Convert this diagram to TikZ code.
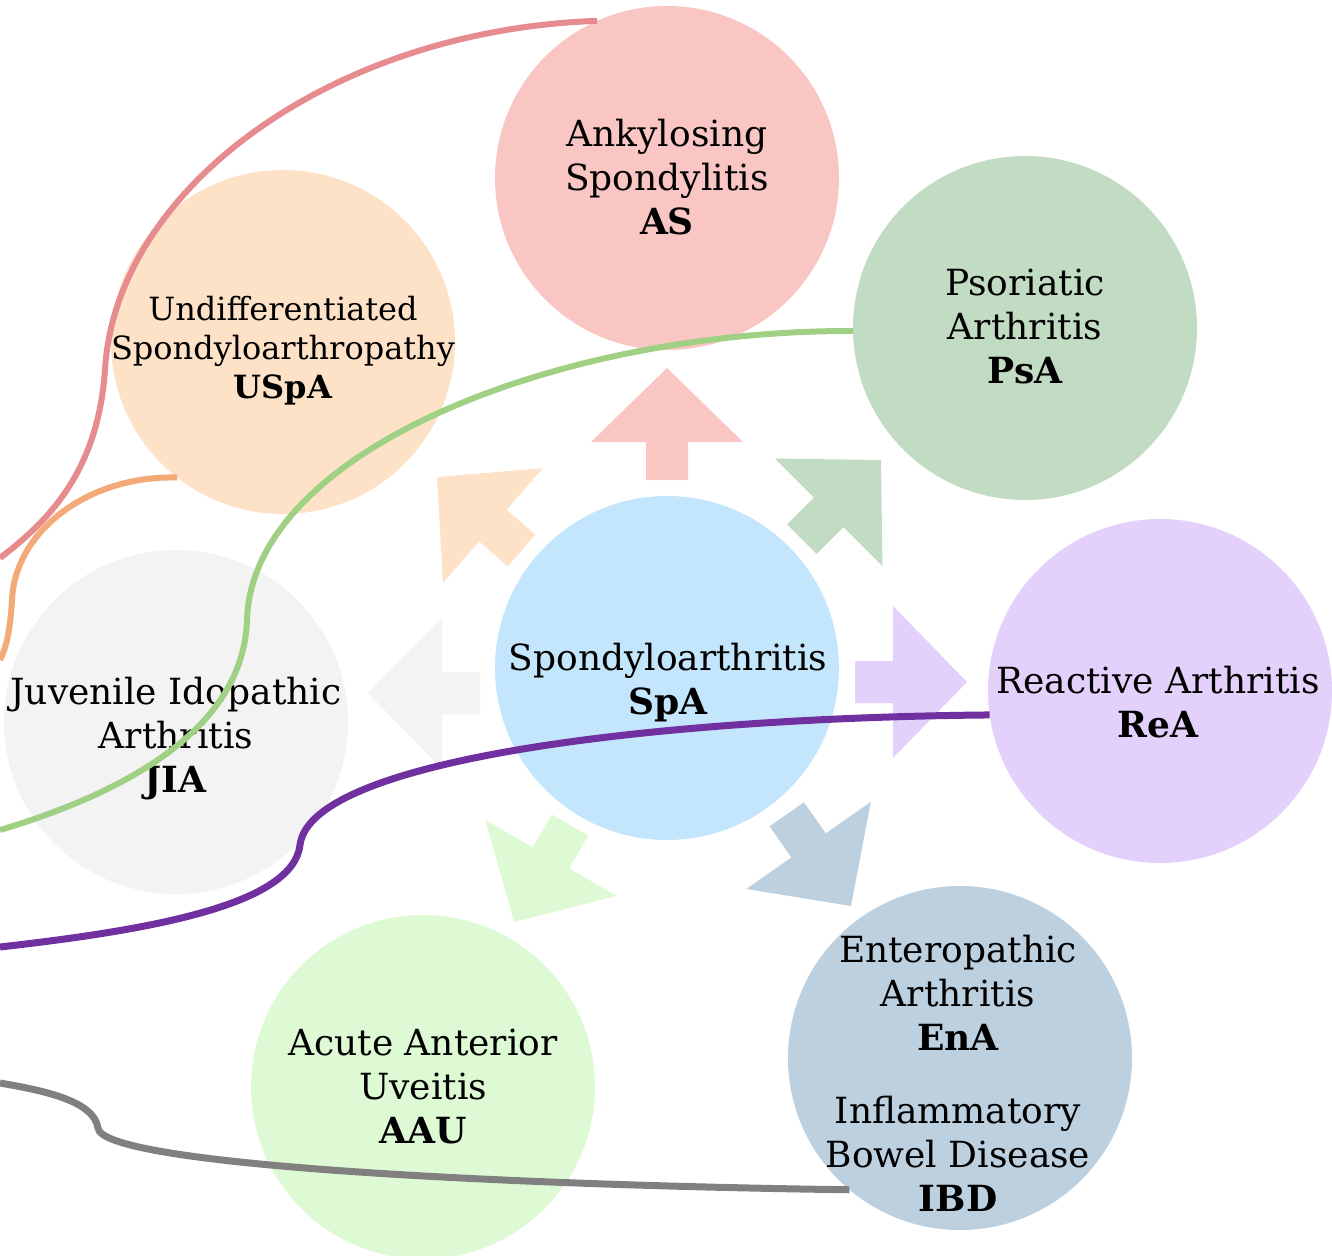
\documentclass[tikz,border=0pt]{standalone}
\usepackage{fontspec}
\setmainfont{DejaVu Serif}

\definecolor{asfill}{HTML}{F9C6C4}
\definecolor{uspafill}{HTML}{FDE2C7}
\definecolor{psafill}{HTML}{C2DBC3}
\definecolor{reafill}{HTML}{E3D1FB}
\definecolor{enafill}{HTML}{BDD0E0}
\definecolor{aaufill}{HTML}{DEFAD4}
\definecolor{jiafill}{HTML}{F3F3F3}
\definecolor{spafill}{HTML}{C4E6FC}
\definecolor{asline}{HTML}{E68B8E}
\definecolor{uspaline}{HTML}{F3A978}
\definecolor{psaline}{HTML}{9FD084}
\definecolor{realine}{HTML}{7030A0}
\definecolor{enaline}{HTML}{808080}

\tikzset{
  disc/.style={circle, minimum size=344pt, inner sep=0pt, outer sep=0pt},
  nametext/.style={align=center, inner sep=0pt, font=\fontsize{36}{44}\selectfont},
  smalltext/.style={nametext, font=\fontsize{32}{39}\selectfont},
  link/.style={line width=6pt},
  spoke/.pic={
    \path[pic actions] (0,0) -- (-74,-76) -- (-74,-21) -- (-112,-21) -- (-112,21) -- (-74,21) -- (-74,76) -- cycle;
  }
}

\begin{document}
\begin{tikzpicture}[x=1pt,y=1pt,yscale=-1]
\useasboundingbox (0,0) rectangle (1332,1255);

% Circles
\node[disc, fill=asfill]   (as)   at (667,178)  {};
\node[disc, fill=uspafill] (uspa) at (283,342)  {};
\node[disc, fill=psafill]  (psa)  at (1025,328) {};
\node[disc, fill=reafill]  (rea)  at (1160,691) {};
\node[disc, fill=enafill]  (ena)  at (960,1058) {};
\node[disc, fill=aaufill]  (aau)  at (423,1087) {};
\node[disc, fill=jiafill]  (jia)  at (176,722)  {};
\node[disc, fill=spafill]  (spa)  at (667,668)  {};

% Block arrows out of SpA
\pic[fill=asfill, rotate=90]    at (667,368) {spoke};
\pic[fill=psafill, rotate=45]   at (881,460) {spoke};
\pic[fill=reafill, rotate=0]    at (967,682) {spoke};
\pic[fill=enafill, rotate=-55]  at (851,906) {spoke};
\pic[fill=aaufill, rotate=-120] at (514,922) {spoke};
\pic[fill=jiafill, rotate=180]  at (368,693) {spoke};
\pic[fill=uspafill, rotate=139] at (437,477) {spoke};

% Text Nodes
\node[nametext] (as-t)   at (667,177)  {Ankylosing\\Spondylitis\\\textbf{AS}};
\node[smalltext] (uspa-t) at (283,351) {Undifferentiated\\Spondyloarthropathy\\\textbf{USpA}};
\node[nametext] (psa-t)  at (1025,327) {Psoriatic\\Arthritis\\\textbf{PsA}};
\node[nametext] (rea-t)  at (1158,702) {Reactive Arthritis\\\textbf{ReA}};
\node[nametext] (spa-t)  at (668,683)  {Spondyloarthritis\\\textbf{SpA}};
\node[nametext] (jia-t)  at (176,739)  {Juvenile Idopathic\\Arthritis\\\textbf{JIA}};
\node[nametext] (aau-t)  at (423,1086) {Acute Anterior\\Uveitis\\\textbf{AAU}};
\node[nametext] (ena-t)  at (958,993)  {Enteropathic\\Arthritis\\\textbf{EnA}};
\node[nametext] (ibd-t)  at (958,1154) {Inflammatory\\Bowel Disease\\\textbf{IBD}};

% Free ends on the left edge
\coordinate (as-end)   at (0,558);
\coordinate (uspa-end) at (0,660);
\coordinate (psa-end)  at (0,830);
\coordinate (rea-end)  at (0,947);
\coordinate (ena-end)  at (0,1083);

% Curves
\draw[link, asline] (as.114) .. controls (330,30) and (115,190) .. (105,370) .. controls (98,470) and (50,520) .. (as-end);
\draw[link, uspaline] (uspa.232) .. controls (90,475) and (15,530) .. (12,600) .. controls (10,635) and (5,650) .. (uspa-end);
\draw[link, psaline] (psa.181) .. controls (560,330) and (252,450) .. (247,620) .. controls (243,740) and (100,800) .. (psa-end);
\draw[link, realine, line width=7pt] (rea.188) .. controls (650,718) and (310,760) .. (300,845) .. controls (293,905) and (150,930) .. (rea-end);
\draw[link, enaline, line width=7pt] (ena.230) .. controls (500,1185) and (102,1165) .. (98,1128) .. controls (94,1100) and (40,1090) .. (ena-end);

\end{tikzpicture}
\end{document}
